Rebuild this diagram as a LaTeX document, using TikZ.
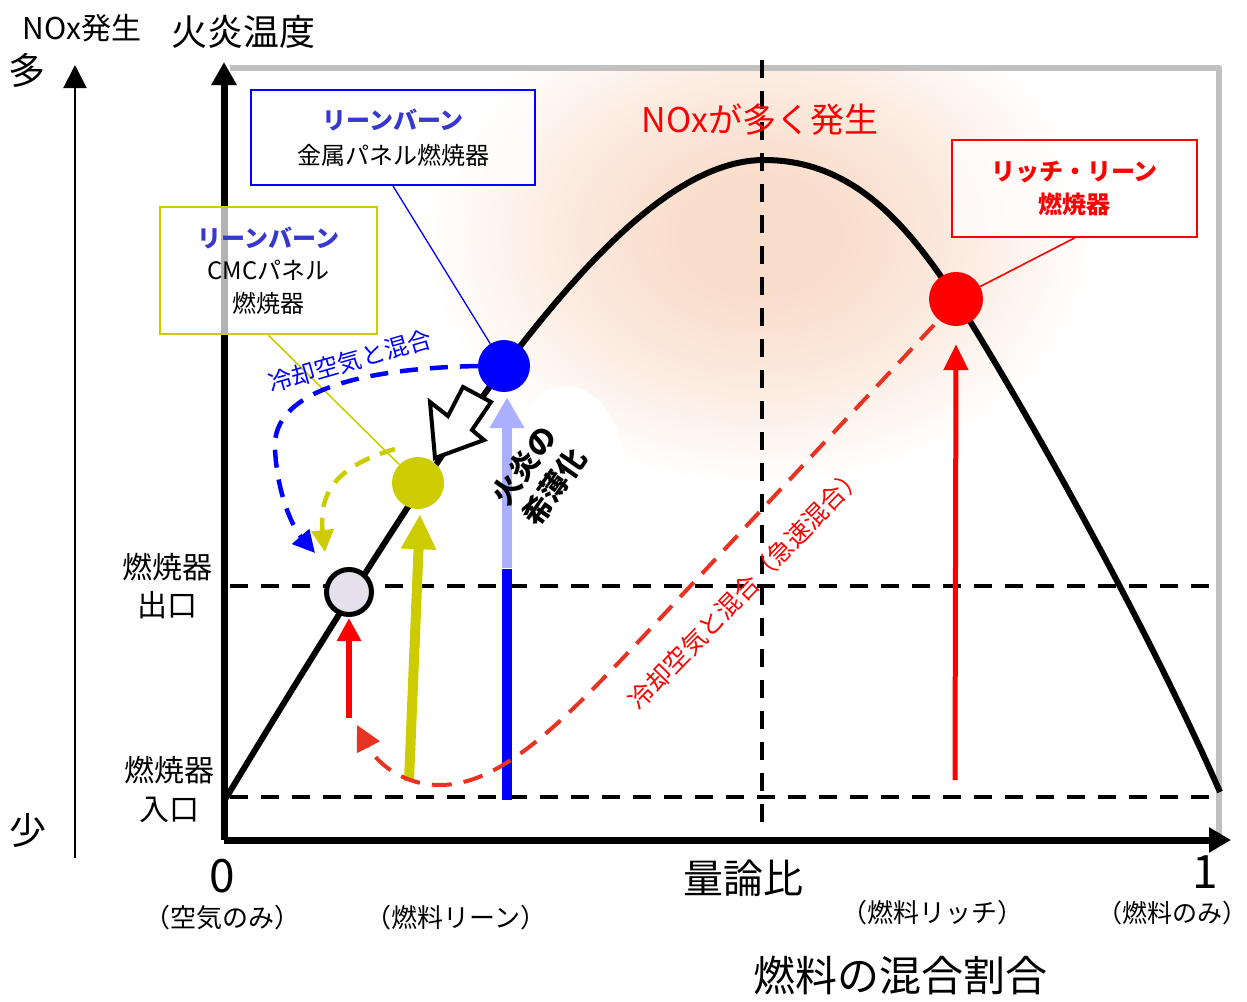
\documentclass[tikz,border=0pt]{standalone}
\usepackage{fontspec}
\setmainfont{Noto Sans CJK JP}
\usetikzlibrary{arrows.meta,shapes.geometric}
\definecolor{cblue}{HTML}{0000FF}
\definecolor{lblue}{HTML}{AAB0FF}
\definecolor{cyel}{HTML}{CCCC00}
\definecolor{cred}{HTML}{FF0000}
\definecolor{dred}{HTML}{E83323}
\definecolor{frame}{HTML}{C0C0C0}
\definecolor{cgray}{HTML}{E4E0EC}
\definecolor{tblue}{HTML}{3838D0}
\definecolor{glow}{HTML}{F9DDCB}
\pgfdeclareradialshading{glowsh}{\pgfpoint{0bp}{0bp}}{color(0bp)=(glow); color(6bp)=(glow); color(15bp)=(glow!60!white); color(25bp)=(white); color(50bp)=(white)}
\begin{document}
\begin{tikzpicture}[x=1pt,y=-1pt,
  ax/.style={line width=7pt,black},
  dsh/.style={line width=4.5pt,dash pattern=on 18pt off 13pt},
  boxn/.style={draw,line width=2pt,fill=white,fill opacity=0.7,text opacity=1,inner sep=0pt,align=center},
  dot/.style={circle,inner sep=0pt,minimum size=52pt},
  txt/.style={inner sep=0pt,align=center}]
\useasboundingbox (0,0) rectangle (1247,1001);
% glow
\begin{scope}
\clip (228,68) rectangle (1219,838);
\shade[shading=glowsh] (760,235) ellipse [x radius=335,y radius=250];
\fill[white] (566,470) ellipse [x radius=58,y radius=84];
\end{scope}
% frame
\draw[frame,line width=6pt,line join=round] (230,68) -- (1219,68) -- (1219,838);
% dashed guides
\draw[dsh] (230,586) -- (1218,586);
\draw[dsh] (230,797) -- (1218,797);
\draw[dsh] (762,60) -- (762,832);
% curve
\draw[line width=6pt,line join=round]
  (226,798) .. controls (320,642) and (440,452) .. (505,366)
  .. controls (590,254) and (680,160) .. (764,160)
  .. controls (850,160) and (905,220) .. (956,299)
  .. controls (1010,383) and (1140,610) .. (1220,792);
% axes
\draw[ax,-{Triangle[length=23pt,width=24pt]}] (224,840) -- (224,62);
\draw[ax,-{Triangle[length=22pt,width=24pt]}] (224,840) -- (1231,840);
\draw[line width=2pt,-{Triangle[length=23pt,width=23pt]}] (75,858) -- (75,65);
% circles
\node[dot,fill=cblue] (bc) at (504,366) {};
\node[dot,fill=cyel] (yc) at (418,483) {};
\node[dot,fill=cred,minimum size=54pt] (rc) at (956,299) {};
\node[circle,inner sep=0pt,minimum size=45pt,fill=cgray,draw=black,line width=5pt] (gc) at (349,592) {};
% boxes
\node[boxn,draw=cblue,minimum width=284pt,minimum height=95pt,font=\fontsize{24}{35}\selectfont] (bbox) at (393,137.5)
  {{\bfseries\color{tblue}リーンバーン}\\金属パネル燃焼器};
\node[boxn,draw=cyel,line width=2.5pt,minimum width=217pt,minimum height=127pt,font=\fontsize{24}{32.5}\selectfont] (ybox) at (268.5,270.5)
  {{\bfseries\color{tblue}リーンバーン}\\CMCパネル\\燃焼器};
\node[boxn,draw=cred,minimum width=245pt,minimum height=97pt,font=\fontsize{24}{33}\selectfont\bfseries,text=cred] (rbox) at (1074.5,188.5)
  {リッチ・リーン\\燃焼器};
% box connectors
\draw[cblue,line width=1.3pt] (bbox.south) -- (bc);
\draw[cyel,line width=1.6pt] (ybox.south) -- (yc);
\draw[cred,line width=1.6pt] (rbox.south) -- (rc);
% coordinates for free ends
\coordinate (bbot) at (507,800);
\coordinate (bmid) at (507,569);
\coordinate (ybot) at (409,781);
\coordinate (rbot) at (349,718);
\coordinate (rrbot) at (955,780);
\coordinate (bend) at (315,553);
\coordinate (yend) at (325,552);
\coordinate (ystart) at (395,449);
\coordinate (rdend) at (357,725);
% vertical arrows
\draw[cblue,line width=10pt] (bbot) -- (bmid);
\draw[lblue,line width=10pt,-{Triangle[length=31pt,width=33pt]}] ([yshift=1pt]bmid) -- ([xshift=3pt,yshift=-5pt]bc.south);
\draw[cyel,line width=10pt,-{Triangle[length=35pt,width=33pt]}] (ybot) -- ([xshift=2pt,yshift=-5pt]yc.south);
\draw[cred,line width=6.5pt,-{Triangle[length=23pt,width=23pt]}] (rbot) -- ([yshift=-1pt]gc.south);
\draw[cred,line width=5pt,-{Triangle[length=26pt,width=24pt]}] (rrbot) -- ([yshift=-18pt]rc.south);
% dashed mixing curves
\draw[cblue,line width=4.5pt,dash pattern=on 18pt off 12pt,-{Triangle[length=22pt,width=22pt]}]
  (bc.west) .. controls (380,368) and (270,385) .. (275,450) .. controls (278,500) and (295,530) .. (bend);
\draw[cyel,line width=4.5pt,dash pattern=on 16pt off 11pt,-{Triangle[length=22pt,width=22pt]}]
  (ystart) .. controls (340,465) and (318,490) .. (yend);
\draw[dred,line width=4pt,dash pattern=on 20pt off 12pt,-{Triangle[length=25pt,width=25pt]}]
  ([shift={(-22pt,-26pt)}]rc.center) -- (640,640) .. controls (560,725) and (500,785) .. (440,785) .. controls (400,785) and (375,760) .. (rdend);
% hollow arrow
\draw[line width=4pt,fill=white,line join=miter] (463,387) -- (491,402) -- (472,430) -- (484,440) -- (435,458) -- (430,402) -- (448,416) -- cycle;
% texts
\node[txt,font=\fontsize{30}{30}\selectfont] (t1) at (82,28) {NOx発生};
\node[txt,font=\fontsize{36}{36}\selectfont] (t2) at (243,32) {火炎温度};
\node[txt,font=\fontsize{37}{37}\selectfont] (t3) at (27,70) {多};
\node[txt,font=\fontsize{37}{37}\selectfont] (t4) at (28,830) {少};
\node[txt,font=\fontsize{30}{38}\selectfont] (t5) at (167,586) {燃焼器\\出口};
\node[txt,font=\fontsize{30}{39}\selectfont] (t6) at (169,789) {燃焼器\\入口};
\node[txt,font=\fontsize{34}{34}\selectfont,text=cred] (t7) at (760,120) {NOxが多く発生};
\node[txt,font=\fontsize{29}{37}\selectfont\bfseries,rotate=55] (t8) at (539,476) {火炎の\\希薄化};
\node[txt,font=\fontsize{24}{24}\selectfont,text=cblue,rotate=16] (t9) at (350,361) {冷却空気と混合};
\node[txt,font=\fontsize{25}{25}\selectfont,text=cred,rotate=46] (t10) at (746,588) {冷却空気と混合（急速混合）};
\node[txt,font=\fontsize{46}{46}\selectfont] (t11) at (222,876) {0};
\node[txt,font=\fontsize{40}{40}\selectfont] (t12) at (743,878) {量論比};
\node[txt,font=\fontsize{46}{46}\selectfont] (t13) at (1205,872) {1};
\node[txt,font=\fontsize{26}{26}\selectfont] (t14) at (222,918) {（空気のみ）};
\node[txt,font=\fontsize{26}{26}\selectfont] (t15) at (456,918) {（燃料リーン）};
\node[txt,font=\fontsize{26}{26}\selectfont] (t16) at (932,913) {（燃料リッチ）};
\node[txt,font=\fontsize{25}{25}\selectfont] (t17) at (1172,913) {（燃料のみ）};
\node[txt,font=\fontsize{42}{42}\selectfont] (t18) at (900,975) {燃料の混合割合};
\end{tikzpicture}
\end{document}
